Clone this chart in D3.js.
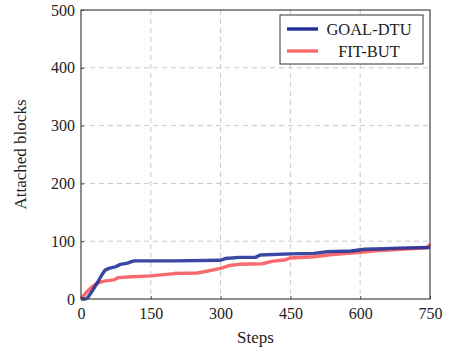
<!DOCTYPE html>
<html>
<head>
<meta charset="utf-8">
<script src="https://cdn.jsdelivr.net/npm/d3@7"></script>
<style>
  body { margin: 0; background: #fff; }
  text { font-family: "Liberation Serif", "DejaVu Serif", serif; fill: #222; }
</style>
</head>
<body>
<div id="container"></div>
<script>
/* DATA */
const seriesNames = ["GOAL-DTU", "FIT-BUT"];
const seriesColors = ["#1f2f96", "#f86a6e"];

const goalSteps = [0, 10, 15, 25, 35, 45, 52, 60, 75, 85, 100, 110, 115, 200, 300, 310, 340, 375, 385, 450, 500, 530, 580, 610, 650, 680, 750];
const goalBlocks = [0, 0, 3, 15, 28, 42, 50, 53, 56, 60, 62, 65, 66, 66, 67, 70, 72, 72, 76, 78, 79, 82, 83, 86, 87, 88, 89];

const fitSteps = [0, 5, 12, 20, 30, 40, 50, 70, 80, 100, 150, 200, 250, 270, 300, 320, 340, 390, 410, 440, 450, 500, 540, 600, 640, 690, 745, 750];
const fitBlocks = [0, 5, 12, 18, 25, 29, 31, 33, 37, 38, 40, 44, 45, 48, 53, 58, 60, 61, 65, 68, 71, 73, 77, 81, 84, 86, 89, 95];

const xTicks = [0, 150, 300, 450, 600, 750];
const yTicks = [0, 100, 200, 300, 400, 500];

/* LAYOUT */
const width = 451, height = 354;
const plot = { left: 81, right: 430, top: 10, bottom: 299 };

const svg = d3.select("#container")
  .append("svg")
  .attr("width", width)
  .attr("height", height);

const x = d3.scaleLinear().domain([0, 750]).range([plot.left, plot.right]);
const y = d3.scaleLinear().domain([0, 500]).range([plot.bottom, plot.top]);

// grid
svg.append("g")
  .selectAll("line")
  .data(xTicks.slice(1, -1))
  .join("line")
  .attr("x1", d => x(d)).attr("x2", d => x(d))
  .attr("y1", plot.top).attr("y2", plot.bottom)
  .attr("stroke", "#c8c8c8")
  .attr("stroke-dasharray", "5,4");

svg.append("g")
  .selectAll("line")
  .data(yTicks.slice(1, -1))
  .join("line")
  .attr("y1", d => y(d)).attr("y2", d => y(d))
  .attr("x1", plot.left).attr("x2", plot.right)
  .attr("stroke", "#c8c8c8")
  .attr("stroke-dasharray", "5,4");

// lines
const series = [
  goalSteps.map((s, i) => [s, goalBlocks[i]]),
  fitSteps.map((s, i) => [s, fitBlocks[i]])
];

const lineGen = d3.line()
  .x(d => x(d[0]))
  .y(d => y(d[1]));

svg.append("path")
  .datum(series[1])
  .attr("fill", "none")
  .attr("stroke", seriesColors[1])
  .attr("stroke-width", 3.4)
  .attr("stroke-linejoin", "round")
  .attr("d", lineGen);

svg.append("path")
  .datum(series[0])
  .attr("fill", "none")
  .attr("stroke", seriesColors[0])
  .attr("stroke-opacity", 0.88)
  .attr("stroke-width", 3.4)
  .attr("stroke-linejoin", "round")
  .attr("d", lineGen);

// frame
svg.append("rect")
  .attr("x", plot.left).attr("y", plot.top)
  .attr("width", plot.right - plot.left)
  .attr("height", plot.bottom - plot.top)
  .attr("fill", "none")
  .attr("stroke", "#444")
  .attr("stroke-width", 1.2);

// ticks
const xAxis = svg.append("g")
  .attr("transform", `translate(0,${plot.bottom})`)
  .call(d3.axisBottom(x).tickValues(xTicks).tickSize(-3).tickPadding(9));
const yAxis = svg.append("g")
  .attr("transform", `translate(${plot.left},0)`)
  .call(d3.axisLeft(y).tickValues(yTicks).tickSize(-3).tickPadding(6));

[xAxis, yAxis].forEach(a => {
  a.select(".domain").remove();
  a.selectAll(".tick line").attr("stroke", "#444");
  a.selectAll("text")
    .style("font-family", '"Liberation Serif", serif')
    .style("font-size", "16px")
    .attr("fill", "#222");
});

// axis titles
svg.append("text")
  .attr("x", (plot.left + plot.right) / 2)
  .attr("y", 343)
  .attr("text-anchor", "middle")
  .style("font-size", "17px")
  .text("Steps");

svg.append("text")
  .attr("transform", `translate(26,${(plot.top + plot.bottom) / 2}) rotate(-90)`)
  .attr("text-anchor", "middle")
  .style("font-size", "17px")
  .text("Attached blocks");

// legend
const legend = svg.append("g");
legend.append("rect")
  .attr("x", 280).attr("y", 15)
  .attr("width", 143).attr("height", 49)
  .attr("fill", "#fff")
  .attr("stroke", "#333");

seriesNames.forEach((name, i) => {
  const ly = 29 + i * 22;
  legend.append("line")
    .attr("x1", 287).attr("x2", 318)
    .attr("y1", ly).attr("y2", ly)
    .attr("stroke", seriesColors[i])
    .attr("stroke-width", 3.4);
  legend.append("text")
    .attr("x", 369).attr("y", ly + 5.5)
    .attr("text-anchor", "middle")
    .style("font-size", "16.5px")
    .text(name);
});
</script>
</body>
</html>
